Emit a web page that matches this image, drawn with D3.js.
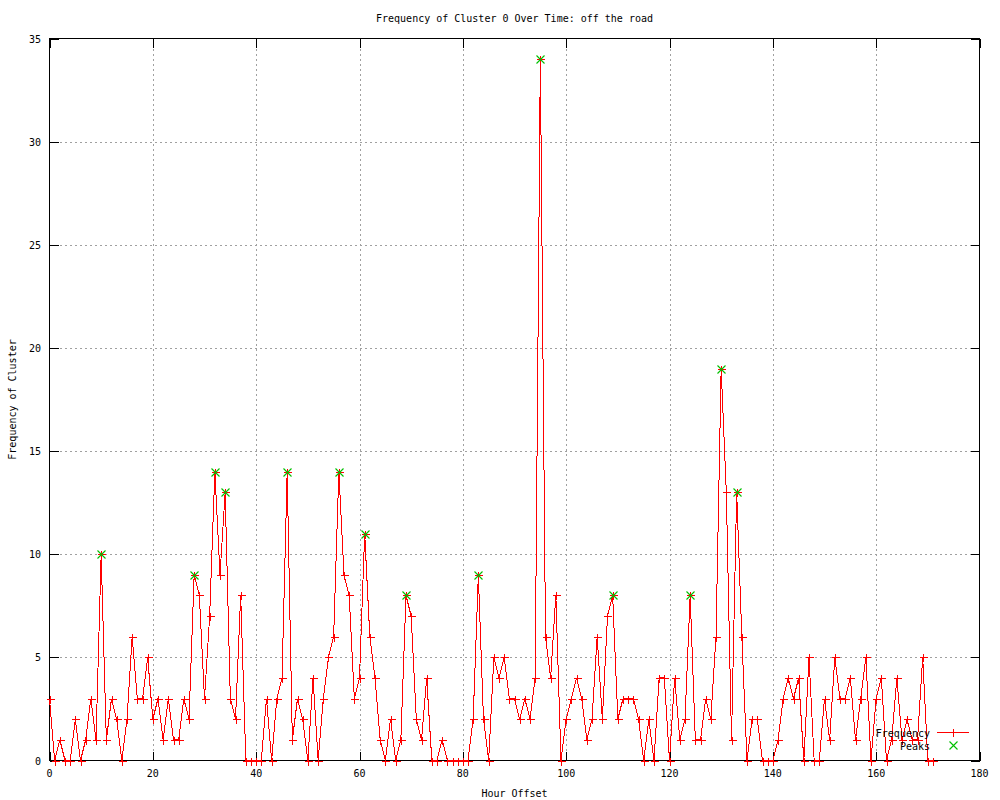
<!DOCTYPE html>
<html><head><meta charset="utf-8">
<script src="https://cdn.jsdelivr.net/npm/d3@7"></script>
<style>
body{margin:0;background:#fff}
svg{display:block}
text{font-family:"DejaVu Sans Mono","Liberation Mono",monospace;font-size:10px;fill:#000}
</style>
</head><body>
<svg id="chart" width="1000" height="800"></svg>
<script>
// Frequency per hour offset (index = hour offset 0..171)
const frequency = [3,0,1,0,0,2,0,1,3,1,10,1,3,2,0,2,6,3,3,5,
  2,3,1,3,1,1,3,2,9,8,3,7,14,9,13,3,2,8,0,0,
  0,0,3,0,3,4,14,1,3,2,0,4,0,3,5,6,14,9,8,3,
  4,11,6,4,1,0,2,0,1,8,7,2,1,4,0,0,1,0,0,0,
  0,0,2,9,2,0,5,4,5,3,3,2,3,2,4,34,6,4,8,0,
  2,3,4,3,1,2,6,2,7,8,2,3,3,3,2,0,2,0,4,4,
  0,4,1,2,8,1,1,3,2,6,19,13,1,13,6,0,2,2,0,0,
  0,1,3,4,3,4,0,5,0,0,3,1,5,3,3,4,1,3,5,0,
  3,4,0,1,4,1,2,1,1,5,0,0];
const peakHours  = [10,28,32,34,46,56,61,69,83,95,109,124,130,133];
const peakValues = [10,9,14,13,14,14,11,8,9,34,8,8,19,13];
const xTicks = [0,20,40,60,80,100,120,140,160,180];
const yTicks = [0,5,10,15,20,25,30,35];
const title = "Frequency of Cluster 0 Over Time: off the road";
const xLabel = "Hour Offset";
const yLabel = "Frequency of Cluster";
const legendLabels = ["Frequency","Peaks"];

const svg = d3.select("#chart");
const L = 49.5, R = 979.5, T = 38.5, B = 760.5;
const x = d3.scaleLinear().domain([0,180]).range([L,R]);
const y = d3.scaleLinear().domain([0,35]).range([B,T]);
const red = "#ff0000", green = "#00c000";

svg.append("rect").attr("width",1000).attr("height",800).attr("fill","#fff");

// grid
const g = svg.append("g");
g.selectAll(".gx").data(xTicks.filter(t=>t>0&&t<180)).enter().append("line")
  .attr("x1",d=>Math.round(x(d))+0.5).attr("x2",d=>Math.round(x(d))+0.5)
  .attr("y1",T).attr("y2",B)
  .attr("stroke","#a0a0a0").attr("stroke-dasharray","2,3").attr("shape-rendering","crispEdges");
g.selectAll(".gy").data(yTicks.filter(t=>t>0&&t<35)).enter().append("line")
  .attr("y1",d=>Math.round(y(d))+0.5).attr("y2",d=>Math.round(y(d))+0.5)
  .attr("x1",L).attr("x2",R)
  .attr("stroke","#a0a0a0").attr("stroke-dasharray","2,3").attr("shape-rendering","crispEdges");

// tick marks (inward, all four sides)
const tk = 9;
const ticks = svg.append("g").attr("stroke","#000").attr("shape-rendering","crispEdges");
xTicks.forEach(t=>{
  const px = Math.round(x(t))+0.5;
  ticks.append("line").attr("x1",px).attr("x2",px).attr("y1",B).attr("y2",B-tk);
  ticks.append("line").attr("x1",px).attr("x2",px).attr("y1",T).attr("y2",T+tk);
});
yTicks.forEach(t=>{
  const py = Math.round(y(t))+0.5;
  ticks.append("line").attr("y1",py).attr("y2",py).attr("x1",L).attr("x2",L+tk);
  ticks.append("line").attr("y1",py).attr("y2",py).attr("x1",R).attr("x2",R-tk);
});

// tick labels
svg.append("g").selectAll("text").data(xTicks).enter().append("text")
  .attr("x",d=>x(d)).attr("y",777).attr("text-anchor","middle").text(d=>d);
svg.append("g").selectAll("text").data(yTicks).enter().append("text")
  .attr("x",41).attr("y",d=>y(d)+4).attr("text-anchor","end").text(d=>d);

// border
svg.append("rect").attr("x",L).attr("y",T).attr("width",R-L).attr("height",B-T)
  .attr("fill","none").attr("stroke","#000").attr("shape-rendering","crispEdges");

// titles
svg.append("text").attr("x",(L+R)/2).attr("y",22).attr("text-anchor","middle").text(title);
svg.append("text").attr("x",(L+R)/2).attr("y",797).attr("text-anchor","middle").text(xLabel);
svg.append("text").attr("transform",`translate(16,${(T+B)/2}) rotate(-90)`)
  .attr("text-anchor","middle").text(yLabel);

// data line
const line = d3.line().x((d,i)=>x(i)).y(d=>y(d));
svg.append("path").datum(frequency).attr("d",line)
  .attr("fill","none").attr("stroke",red).attr("stroke-width",1)
  .attr("shape-rendering","crispEdges");

function plus(sel, cx, cy, col){
  const s = 4;
  sel.append("path").attr("d",`M${cx-s},${cy}H${cx+s}M${cx},${cy-s}V${cy+s}`)
    .attr("stroke",col).attr("fill","none").attr("shape-rendering","crispEdges");
}
function cross(sel, cx, cy, col){
  const s = 4;
  sel.append("path").attr("d",`M${cx-s},${cy-s}L${cx+s},${cy+s}M${cx-s},${cy+s}L${cx+s},${cy-s}`)
    .attr("stroke",col).attr("stroke-width",1.1).attr("fill","none");
}
const pts = svg.append("g");
frequency.forEach((v,i)=>plus(pts, Math.round(x(i))+0.5, Math.round(y(v))+0.5, red));
const pk = svg.append("g");
peakHours.forEach((h,i)=>cross(pk, Math.round(x(h))+0.5, Math.round(y(peakValues[i]))+0.5, green));

// legend
const lg = svg.append("g");
lg.append("text").attr("x",930).attr("y",737).attr("text-anchor","end").text(legendLabels[0]);
lg.append("line").attr("x1",937).attr("x2",969).attr("y1",732.5).attr("y2",732.5)
  .attr("stroke",red).attr("shape-rendering","crispEdges");
plus(lg, 953.5, 732.5, red);
lg.append("text").attr("x",930).attr("y",750).attr("text-anchor","end").text(legendLabels[1]);
cross(lg, 953.5, 745.5, green);
</script>
</body></html>
